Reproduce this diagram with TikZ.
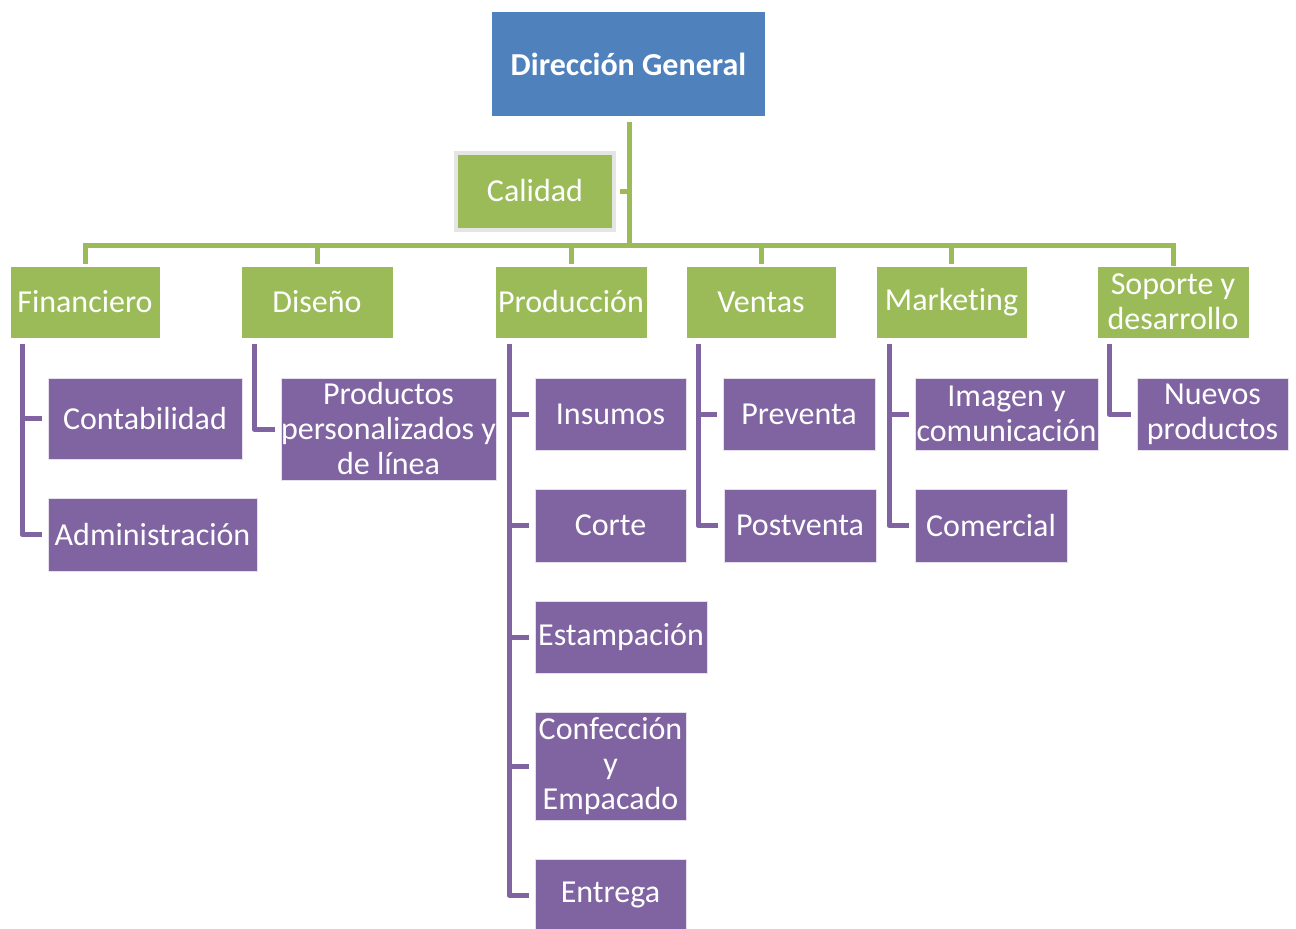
\documentclass[tikz,border=0pt]{standalone}
\usepackage{fontspec}
\setmainfont{Carlito}[Ligatures={NoCommon}]
\definecolor{dgblue}{HTML}{4F81BD}
\definecolor{dgreen}{HTML}{9BBB59}
\definecolor{dpurple}{HTML}{8064A2}
\begin{document}
\begin{tikzpicture}[x=1pt,y=-1pt,
  box/.style={inner sep=0pt, align=center, text=white, font=\fontsize{32}{35}\selectfont},
  gbox/.style={box, fill=dgreen, draw=white, line width=0.8pt},
  pbox/.style={box, fill=dpurple, draw=white!80!dpurple, line width=0.8pt},
  gline/.style={draw=dgreen, line width=5pt},
  pline/.style={draw=dpurple, line width=5pt, line join=round}]
\useasboundingbox (0,0) rectangle (1296,929);
\fill[white] (0,0) rectangle (1296,929);
% top
\node[box, fill=dgblue, minimum width=273pt, minimum height=104pt, font=\bfseries\fontsize{32}{35}\selectfont] (dg) at (628.5,64) {Dirección General};
\node[gbox, draw=black!10, line width=4pt, minimum width=158pt, minimum height=77pt] (cal) at (535,191) {Calidad};
% green level
\node[gbox, minimum width=150pt, minimum height=72pt] (fin) at (85,302) {Financiero};
\node[gbox, minimum width=152pt, minimum height=72pt] (dis) at (317,302) {Diseño};
\node[gbox, minimum width=152pt, minimum height=72pt] (pro) at (571,302) {Producción};
\node[gbox, minimum width=150pt, minimum height=72pt] (ven) at (761,302) {Ventas};
\node[gbox, minimum width=151pt, minimum height=72pt] (mar) at (951.5,302) {Marketing};
\node[gbox, minimum width=152pt, minimum height=72pt] (sop) at (1173,302) {Soporte y\\desarrollo};
% purple level
\node[pbox, minimum width=194pt, minimum height=81pt] (con) at (145,418.5) {Contabilidad};
\node[pbox, minimum width=209pt, minimum height=73pt] (adm) at (152.5,534.5) {Administración};
\node[pbox, minimum width=215pt, minimum height=102pt] (prd) at (388.5,429) {Productos\\personalizados y\\de línea};
\node[pbox, minimum width=151pt, minimum height=72pt] (ins) at (610.5,414) {Insumos};
\node[pbox, minimum width=151pt, minimum height=73pt] (cor) at (610.5,525.5) {Corte};
\node[pbox, minimum width=172pt, minimum height=72pt] (est) at (621,637) {Estampación};
\node[pbox, minimum width=151pt, minimum height=108pt] (cnf) at (610.5,766) {Confección\\y\\Empacado};
\node[pbox, minimum width=151pt, minimum height=72pt] (ent) at (610.5,895) {Entrega};
\node[pbox, minimum width=152pt, minimum height=72pt] (pre) at (799,414) {Preventa};
\node[pbox, minimum width=152pt, minimum height=73pt] (pos) at (800,525.5) {Postventa};
\node[pbox, minimum width=183pt, minimum height=72pt] (ima) at (1006.5,414) {Imagen y\\comunicación};
\node[pbox, minimum width=152pt, minimum height=73pt] (com) at (991,525.5) {Comercial};
\node[pbox, minimum width=151pt, minimum height=72pt] (nue) at (1212.5,414) {Nuevos\\productos};
% green connectors
\coordinate (bar) at (629,245);
\draw[gline, shorten <=6pt] (dg.south -| bar) -- (bar);
\draw[gline, shorten <=4pt] (cal.east) -- (cal.east -| bar);
\draw[gline, shorten <=2pt] (fin.north) -- (fin.north |- bar) -- (sop.north |- bar) -- (sop.north);
\foreach \n in {dis,pro,ven,mar}
  \draw[gline, shorten <=2pt] (\n.north) -- (\n.north |- bar);
% purple connectors
\coordinate (finv) at (22,344);
\draw[pline, shorten >=6pt] (finv) |- (adm.west);
\draw[pline, shorten >=6pt] (finv |- con.west) -- (con.west);
\coordinate (disv) at (254,344);
\draw[pline, shorten >=6pt] (disv) |- (prd.west);
\coordinate (prov) at (509,344);
\draw[pline, shorten >=6pt] (prov) |- (ent.west);
\foreach \n in {ins,cor,est,cnf}
  \draw[pline, shorten >=6pt] (prov |- \n.west) -- (\n.west);
\coordinate (venv) at (698,344);
\draw[pline, shorten >=6pt] (venv) |- (pos.west);
\draw[pline, shorten >=6pt] (venv |- pre.west) -- (pre.west);
\coordinate (marv) at (889,344);
\draw[pline, shorten >=6pt] (marv) |- (com.west);
\draw[pline, shorten >=6pt] (marv |- ima.west) -- (ima.west);
\coordinate (sopv) at (1109,344);
\draw[pline, shorten >=6pt] (sopv) |- (nue.west);
\end{tikzpicture}
\end{document}
